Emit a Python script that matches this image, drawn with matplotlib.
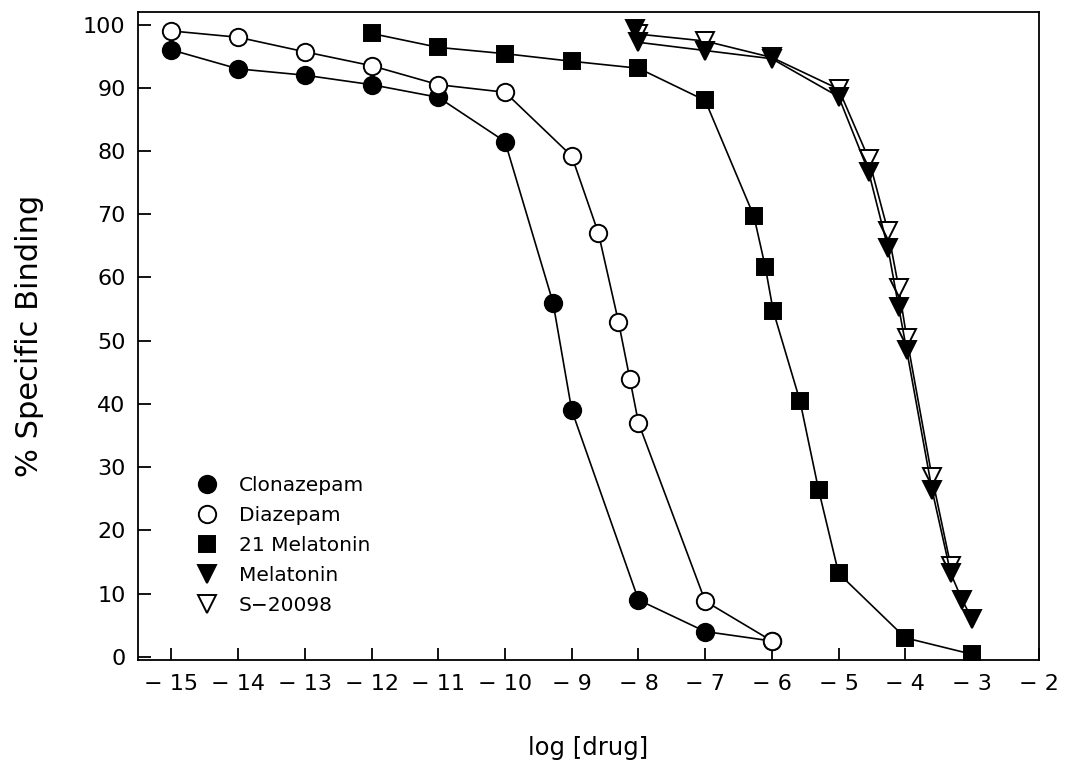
import matplotlib
matplotlib.use("Agg")
import matplotlib.pyplot as plt

# log concentration vs. % specific binding for each compound
clonazepam_x = [-15, -14, -13, -12, -11, -10, -9.28, -9.0, -8, -7, -6]
clonazepam_y = [96, 93, 92, 90.5, 88.5, 81.5, 56, 39, 9, 4, 2.5]

diazepam_x = [-15, -14, -13, -12, -11, -10, -9, -8.6, -8.3, -8.13, -8.0, -7, -6]
diazepam_y = [99, 98, 95.7, 93.5, 90.5, 89.3, 79.2, 67, 53, 44, 37, 8.8, 2.5]

mel21_x = [-12, -11, -10, -9, -8, -7, -6.27, -6.1, -5.98, -5.58, -5.3, -5, -4, -3]
mel21_y = [98.6, 96.4, 95.4, 94.2, 93.1, 88, 69.7, 61.7, 54.7, 40.5, 26.4, 13.2, 3, 0.4]

melatonin_x = [-8.05, -8, -7, -6, -5, -4.55, -4.26, -4.1, -3.98, -3.6, -3.32, -3.15, -3]
melatonin_y = [99.3, 97.2, 95.9, 94.6, 88.6, 76.7, 64.6, 55.3, 48.5, 26.4, 13.2, 9, 6]

s20098_x = [-8, -7, -6, -5, -4.55, -4.26, -4.1, -3.98, -3.6, -3.32]
s20098_y = [98.5, 97.4, 94.8, 89.8, 78.8, 67.3, 58.4, 50.5, 28.4, 14.4]

x_ticks = list(range(-15, -1))
y_ticks = list(range(0, 101, 10))

plt.rcParams['font.family'] = ['DejaVu Sans']

fig = plt.figure(figsize=(10.66, 7.77), dpi=100)
ax = fig.add_axes([0.1295, 0.1506, 0.845, 0.834])

line_kw = dict(color='black', linewidth=1.2, markeredgewidth=1.4, markeredgecolor='black')

ax.plot(clonazepam_x, clonazepam_y, marker='o', markersize=12.5, markerfacecolor='black',
        label='Clonazepam', **line_kw)
ax.plot(diazepam_x, diazepam_y, marker='o', markersize=12.5, markerfacecolor='white',
        label='Diazepam', **line_kw)
ax.plot(mel21_x, mel21_y, marker='s', markersize=11, markerfacecolor='black',
        label='21 Melatonin', **line_kw)
ax.plot(s20098_x, s20098_y, marker='v', markersize=12.5, markerfacecolor='white',
        label='S\u221220098', zorder=2, **line_kw)
ax.plot(melatonin_x, melatonin_y, marker='v', markersize=12.5, markerfacecolor='black',
        label='Melatonin', zorder=3, **line_kw)

ax.set_xlim(-15.5, -2)
ax.set_ylim(-0.5, 102)
ax.set_xticks(x_ticks)
ax.set_xticklabels(['\u2212 ' + str(abs(t)) for t in x_ticks])
ax.set_yticks(y_ticks)

ax.tick_params(direction='in', length=9, width=1.3, labelsize=16, pad=9)
ax.tick_params(axis='x', pad=10)
for sp in ax.spines.values():
    sp.set_linewidth(1.3)

ax.set_xlabel('log [drug]', fontsize=17.5, labelpad=30)
ax.set_ylabel('% Specific Binding', fontsize=22, labelpad=28)

handles, labels = ax.get_legend_handles_labels()
order = [0, 1, 2, 4, 3]
leg = ax.legend([handles[i] for i in order], [labels[i] for i in order],
                loc='upper left', bbox_to_anchor=(0.045, 0.312), frameon=False,
                fontsize=14.5, handlelength=1.0, handletextpad=1.1, labelspacing=0.55,
                numpoints=1)
for h in leg.legend_handles:
    h.set_linestyle('none')

fig.savefig('out.png', dpi=100)
